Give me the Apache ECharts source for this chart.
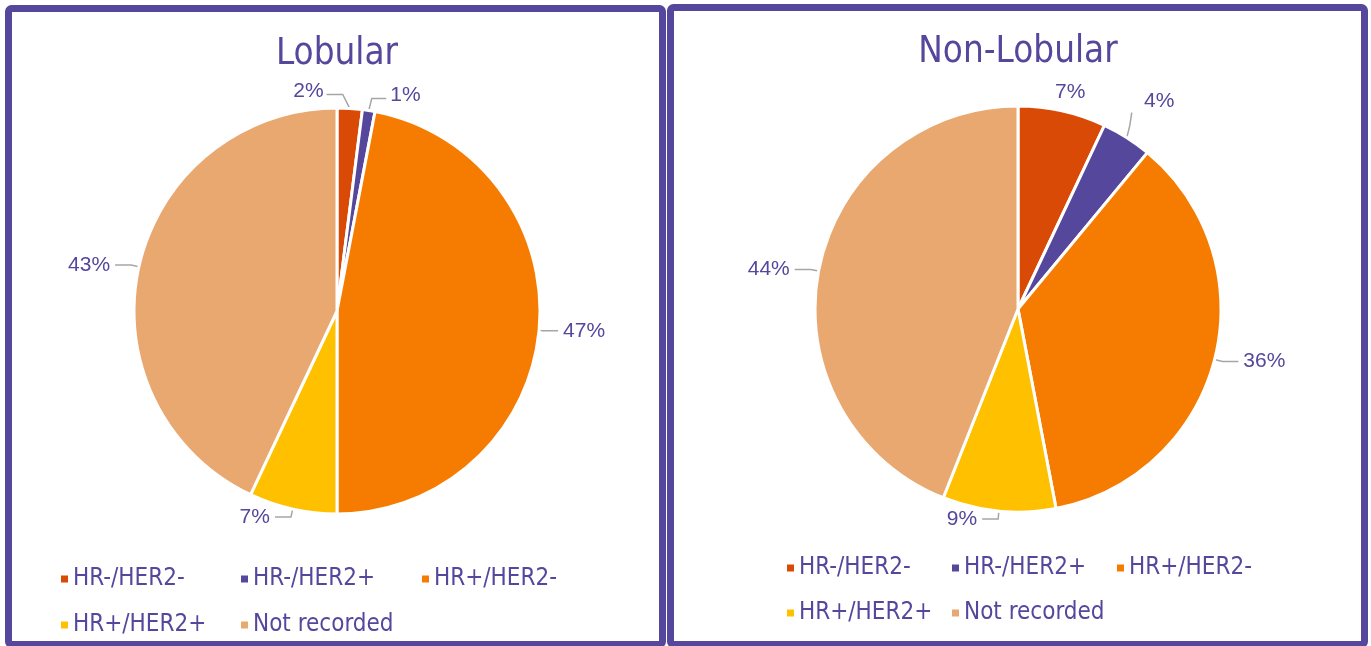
<!DOCTYPE html>
<html>
<head>
<meta charset="utf-8">
<script src="https://cdn.jsdelivr.net/npm/echarts@6/dist/echarts.min.js"></script>
<style>
html,body{margin:0;padding:0;background:#fff;}
#c{width:1371px;height:646px;}
</style>
</head>
<body>
<div id="c"></div>
<script>
const categories = ['HR-/HER2-', 'HR-/HER2+', 'HR+/HER2-', 'HR+/HER2+', 'Not recorded'];
const lobularValues = [2, 1, 47, 7, 43];
const nonLobularValues = [7, 4, 36, 9, 44];
const titles = ['Lobular', 'Non-Lobular'];
const colors = ['#D84A05', '#54479C', '#F57C00', '#FFC000', '#E8A870'];

const purple = '#54479C';
const titleFont = '"DejaVu Sans Condensed", "DejaVu Sans", sans-serif';
const labelFont = '"Liberation Sans", Arial, sans-serif';

function pieData(vals) {
  return categories.map((n, i) => ({ name: n, value: vals[i], itemStyle: { color: colors[i] } }));
}

// legend slot layout per panel: [left, top] for each category
const legendSlots = [
  [[54, 562], [234, 562], [415, 562], [54, 608], [234, 608]],
  [[780, 551], [945, 551], [1110, 551], [780, 596], [945, 596]]
];
const legends = [];
legendSlots.forEach(panel => {
  panel.forEach((pos, i) => {
    legends.push({
      data: [categories[i]],
      left: pos[0], top: pos[1],
      itemWidth: 9, itemHeight: 9, icon: 'rect',
      itemGap: 0,
      textStyle: { color: purple, fontSize: 24, fontFamily: titleFont, padding: [0, 0, 0, -1] }
    });
  });
});

// nudges of crowded labels near the top of each pie: key series-dataIndex -> [dx, dy, lineMode]
const labelNudges = {
  '0-0': [-78, -9, 'left'],
  '0-1': [-60, -28, 'right'],
  '1-0': [-30, -11, 'none'],
  '1-1': [-8, -30, 'up']
};

function pieSeries(name, vals, center) {
  return {
    type: 'pie', name: name,
    center: center, radius: 203,
    startAngle: 90, clockwise: true,
    avoidLabelOverlap: true,
    data: pieData(vals),
    itemStyle: { borderColor: '#fff', borderWidth: 3 },
    label: { show: true, formatter: '{c}%', color: purple, fontSize: 21, fontFamily: labelFont, distanceToLabelLine: 5 },
    labelLine: { show: true, length: 8, length2: 16, lineStyle: { color: '#A6A6A6', width: 1.5 } },
    labelLayout: function (p) {
      const n = labelNudges[p.seriesIndex + '-' + p.dataIndex];
      if (!n) return {};
      const r = p.labelRect;
      const x0 = r.x + n[0], y0 = r.y + n[1];
      const p0 = p.labelLinePoints ? p.labelLinePoints[0] : [x0, y0];
      const ly = y0 + r.height / 2 + 3;
      let pts;
      if (n[2] === 'left') {
        pts = [p0, [p0[0] - 7, ly], [x0 + r.width + 3, ly]];
      } else if (n[2] === 'right') {
        pts = [p0, [p0[0] + 3, ly], [x0 - 4, ly]];
      } else if (n[2] === 'up') {
        pts = [p0, [p0[0] + 3, p0[1] - 12], [p0[0] + 5, p0[1] - 25]];
      } else {
        pts = [p0, p0, p0];
      }
      return { dx: n[0], dy: n[1], labelLinePoints: pts };
    },
    emphasis: { scale: false }
  };
}

const chart = echarts.init(document.getElementById('c'), null, { renderer: 'canvas' });
chart.setOption({
  animation: false,
  backgroundColor: '#fff',
  title: [
    { text: titles[0], left: 332, top: 31, textAlign: 'center', textStyle: { color: purple, fontSize: 36.5, fontWeight: 'normal', fontFamily: titleFont } },
    { text: titles[1], left: 1013, top: 29, textAlign: 'center', textStyle: { color: purple, fontSize: 36.5, fontWeight: 'normal', fontFamily: titleFont } }
  ],
  legend: legends,
  graphic: [
    { type: 'rect', shape: { x: 8.5, y: 8.5, width: 654, height: 636, r: 3 }, style: { fill: 'none', stroke: purple, lineWidth: 7 }, z: 100 },
    { type: 'rect', shape: { x: 670.5, y: 7.5, width: 694, height: 637, r: 3 }, style: { fill: 'none', stroke: purple, lineWidth: 7 }, z: 100 }
  ],
  series: [
    pieSeries(titles[0], lobularValues, [337, 311]),
    pieSeries(titles[1], nonLobularValues, [1018, 309])
  ]
});
</script>
</body>
</html>
